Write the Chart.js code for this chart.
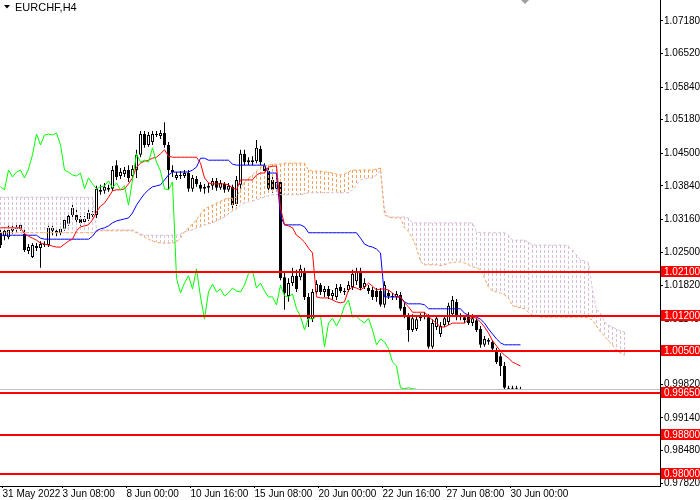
<!DOCTYPE html>
<html>
<head>
<meta charset="utf-8">
<title>EURCHF,H4</title>
<script src="https://cdn.jsdelivr.net/npm/chart.js@4.4.0/dist/chart.umd.min.js"></script>
<style>
  html, body { margin: 0; padding: 0; background: #fff; }
  canvas { display: block; }
</style>
</head>
<body>
<canvas id="chart" width="700" height="500"></canvas>
<script>
/* EURCHF H4 with Ichimoku (9/26/52) and horizontal levels, MT4 look */

const FONT = "'Liberation Sans', Arial, sans-serif";
const FONT_SIZE = 10;
const ORANGE = '#f4a460';
const THISTLE = '#d8bfd8';

// one entry per H4 bar, left to right
const opens = [
  1.0289, 1.0282, 1.0280, 1.0293, 1.0297, 1.0297, 1.0287, 1.0252, 1.0240, 1.0262,
  1.0258, 1.0266, 1.0264, 1.0299, 1.0293, 1.0289, 1.0297, 1.0307, 1.0325, 1.0325,
  1.0317, 1.0311, 1.0317, 1.0327, 1.0325, 1.0376, 1.0374, 1.0380, 1.0378, 1.0426,
  1.0404, 1.0408, 1.0416, 1.0404, 1.0416, 1.0447, 1.0489, 1.0467, 1.0473, 1.0489,
  1.0485, 1.0491, 1.0467, 1.0416, 1.0400, 1.0406, 1.0404, 1.0410, 1.0378, 1.0398,
  1.0386, 1.0378, 1.0380, 1.0384, 1.0394, 1.0380, 1.0388, 1.0376, 1.0382, 1.0347,
  1.0386, 1.0449, 1.0432, 1.0436, 1.0434, 1.0459, 1.0426, 1.0414, 1.0396, 1.0378,
  1.0392, 1.0199, 1.0161, 1.0187, 1.0202, 1.0199, 1.0210, 1.0159, 1.0114, 1.0169,
  1.0183, 1.0169, 1.0175, 1.0161, 1.0159, 1.0179, 1.0171, 1.0173, 1.0179, 1.0191,
  1.0212, 1.0179, 1.0177, 1.0173, 1.0171, 1.0171, 1.0143, 1.0167, 1.0161, 1.0159,
  1.0163, 1.0139, 1.0120, 1.0092, 1.0094, 1.0116, 1.0120, 1.0118, 1.0058, 1.0098,
  1.0084, 1.0102, 1.0108, 1.0124, 1.0149, 1.0118, 1.0118, 1.0122, 1.0106, 1.0112,
  1.0094, 1.0062, 1.0072, 1.0068, 1.0051, 1.0039, 1.0019, 0.9975, 0.9973, 0.9975,
  0.9973
];
const highs = [
  1.0295, 1.0299, 1.0303, 1.0303, 1.0305, 1.0311, 1.0297, 1.0266, 1.0268, 1.0268,
  1.0272, 1.0272, 1.0303, 1.0303, 1.0299, 1.0301, 1.0321, 1.0329, 1.0345, 1.0339,
  1.0323, 1.0323, 1.0335, 1.0333, 1.0384, 1.0386, 1.0390, 1.0386, 1.0424, 1.0436,
  1.0420, 1.0422, 1.0426, 1.0426, 1.0457, 1.0495, 1.0495, 1.0493, 1.0495, 1.0495,
  1.0497, 1.0513, 1.0473, 1.0426, 1.0412, 1.0414, 1.0416, 1.0416, 1.0406, 1.0404,
  1.0392, 1.0388, 1.0390, 1.0400, 1.0400, 1.0396, 1.0392, 1.0390, 1.0386, 1.0404,
  1.0457, 1.0457, 1.0442, 1.0444, 1.0477, 1.0465, 1.0430, 1.0420, 1.0404, 1.0400,
  1.0396, 1.0208, 1.0197, 1.0218, 1.0214, 1.0224, 1.0218, 1.0167, 1.0175, 1.0193,
  1.0187, 1.0181, 1.0181, 1.0173, 1.0185, 1.0185, 1.0177, 1.0191, 1.0214, 1.0218,
  1.0218, 1.0197, 1.0183, 1.0179, 1.0177, 1.0177, 1.0191, 1.0173, 1.0167, 1.0171,
  1.0169, 1.0147, 1.0126, 1.0124, 1.0120, 1.0126, 1.0128, 1.0124, 1.0114, 1.0122,
  1.0108, 1.0122, 1.0147, 1.0161, 1.0155, 1.0126, 1.0122, 1.0128, 1.0124, 1.0116,
  1.0100, 1.0080, 1.0076, 1.0072, 1.0056, 1.0045, 1.0027, 0.9979, 0.9979, 0.9979,
  0.9977
];
const lows = [
  1.0258, 1.0274, 1.0276, 1.0287, 1.0291, 1.0293, 1.0250, 1.0246, 1.0238, 1.0252,
  1.0218, 1.0260, 1.0260, 1.0284, 1.0282, 1.0284, 1.0293, 1.0303, 1.0321, 1.0311,
  1.0303, 1.0307, 1.0313, 1.0319, 1.0319, 1.0366, 1.0368, 1.0372, 1.0374, 1.0396,
  1.0398, 1.0402, 1.0392, 1.0400, 1.0400, 1.0442, 1.0461, 1.0463, 1.0467, 1.0483,
  1.0479, 1.0461, 1.0376, 1.0402, 1.0396, 1.0398, 1.0400, 1.0372, 1.0372, 1.0382,
  1.0372, 1.0368, 1.0370, 1.0376, 1.0374, 1.0376, 1.0370, 1.0372, 1.0339, 1.0343,
  1.0378, 1.0426, 1.0426, 1.0426, 1.0430, 1.0426, 1.0408, 1.0374, 1.0370, 1.0372,
  1.0193, 1.0133, 1.0149, 1.0181, 1.0169, 1.0193, 1.0153, 1.0098, 1.0108, 1.0165,
  1.0163, 1.0159, 1.0155, 1.0153, 1.0153, 1.0167, 1.0163, 1.0169, 1.0173, 1.0183,
  1.0173, 1.0175, 1.0165, 1.0153, 1.0149, 1.0139, 1.0137, 1.0155, 1.0153, 1.0153,
  1.0131, 1.0116, 1.0068, 1.0088, 1.0090, 1.0110, 1.0114, 1.0054, 1.0054, 1.0092,
  1.0078, 1.0098, 1.0102, 1.0120, 1.0112, 1.0112, 1.0106, 1.0102, 1.0100, 1.0088,
  1.0056, 1.0058, 1.0062, 1.0049, 1.0023, 0.9999, 0.9971, 0.9971, 0.9971, 0.9971,
  0.9971
];
const closes = [
  1.0264, 1.0293, 1.0295, 1.0297, 1.0299, 1.0305, 1.0254, 1.0260, 1.0264, 1.0258,
  1.0266, 1.0264, 1.0299, 1.0293, 1.0289, 1.0297, 1.0315, 1.0323, 1.0339, 1.0315,
  1.0309, 1.0317, 1.0329, 1.0325, 1.0378, 1.0372, 1.0382, 1.0376, 1.0416, 1.0402,
  1.0412, 1.0416, 1.0400, 1.0418, 1.0447, 1.0489, 1.0467, 1.0487, 1.0489, 1.0487,
  1.0491, 1.0467, 1.0416, 1.0412, 1.0406, 1.0404, 1.0410, 1.0378, 1.0400, 1.0388,
  1.0378, 1.0382, 1.0384, 1.0394, 1.0380, 1.0390, 1.0376, 1.0384, 1.0345, 1.0396,
  1.0449, 1.0432, 1.0436, 1.0432, 1.0461, 1.0432, 1.0414, 1.0378, 1.0376, 1.0392,
  1.0197, 1.0167, 1.0187, 1.0202, 1.0175, 1.0216, 1.0159, 1.0114, 1.0169, 1.0185,
  1.0169, 1.0175, 1.0161, 1.0167, 1.0177, 1.0171, 1.0169, 1.0183, 1.0206, 1.0212,
  1.0177, 1.0187, 1.0171, 1.0159, 1.0159, 1.0143, 1.0183, 1.0161, 1.0159, 1.0165,
  1.0135, 1.0120, 1.0092, 1.0116, 1.0114, 1.0120, 1.0122, 1.0058, 1.0106, 1.0116,
  1.0100, 1.0116, 1.0141, 1.0153, 1.0118, 1.0120, 1.0112, 1.0106, 1.0116, 1.0092,
  1.0062, 1.0074, 1.0068, 1.0054, 1.0027, 1.0019, 0.9975, 0.9973, 0.9975, 0.9973,
  0.9972
];

// Ichimoku lines
const tenkan = [
  1.0299, 1.0299, 1.0299, 1.0299, 1.0299, 1.0299, 1.0287, 1.0282, 1.0278, 1.0274,
  1.0268, 1.0266, 1.0264, 1.0262, 1.0260, 1.0260, 1.0266, 1.0272, 1.0276, 1.0293,
  1.0301, 1.0303, 1.0305, 1.0315, 1.0331, 1.0343, 1.0349, 1.0361, 1.0374, 1.0376,
  1.0376, 1.0378, 1.0388, 1.0400, 1.0422, 1.0430, 1.0434, 1.0436, 1.0440, 1.0442,
  1.0449, 1.0457, 1.0444, 1.0442, 1.0442, 1.0442, 1.0442, 1.0442, 1.0442, 1.0442,
  1.0430, 1.0400, 1.0390, 1.0388, 1.0388, 1.0388, 1.0388, 1.0386, 1.0380, 1.0376,
  1.0396, 1.0396, 1.0396, 1.0396, 1.0406, 1.0410, 1.0410, 1.0422, 1.0424, 1.0424,
  1.0339, 1.0305, 1.0303, 1.0299, 1.0284, 1.0278, 1.0270, 1.0258, 1.0248, 1.0159,
  1.0157, 1.0157, 1.0157, 1.0153, 1.0149, 1.0147, 1.0149, 1.0173, 1.0179, 1.0177,
  1.0173, 1.0179, 1.0187, 1.0181, 1.0173, 1.0175, 1.0175, 1.0173, 1.0167, 1.0159,
  1.0159, 1.0147, 1.0139, 1.0128, 1.0128, 1.0128, 1.0128, 1.0120, 1.0112, 1.0106,
  1.0098, 1.0098, 1.0102, 1.0106, 1.0106, 1.0106, 1.0106, 1.0114, 1.0118, 1.0116,
  1.0108, 1.0098, 1.0086, 1.0070, 1.0060, 1.0049, 1.0041, 1.0035, 1.0027, 1.0023,
  1.0019
];
const kijun = [
  1.0284, 1.0284, 1.0284, 1.0284, 1.0284, 1.0284, 1.0284, 1.0284, 1.0284, 1.0284,
  1.0278, 1.0276, 1.0276, 1.0276, 1.0276, 1.0276, 1.0276, 1.0276, 1.0276, 1.0276,
  1.0276, 1.0276, 1.0276, 1.0282, 1.0293, 1.0297, 1.0299, 1.0303, 1.0309, 1.0313,
  1.0315, 1.0317, 1.0319, 1.0329, 1.0345, 1.0357, 1.0368, 1.0376, 1.0382, 1.0384,
  1.0386, 1.0396, 1.0406, 1.0412, 1.0412, 1.0412, 1.0412, 1.0412, 1.0416, 1.0422,
  1.0440, 1.0440, 1.0436, 1.0436, 1.0436, 1.0436, 1.0436, 1.0436, 1.0428, 1.0426,
  1.0426, 1.0426, 1.0426, 1.0426, 1.0426, 1.0426, 1.0426, 1.0410, 1.0410, 1.0410,
  1.0323, 1.0305, 1.0305, 1.0305, 1.0305, 1.0305, 1.0301, 1.0289, 1.0289, 1.0289,
  1.0289, 1.0289, 1.0289, 1.0289, 1.0289, 1.0289, 1.0289, 1.0289, 1.0289, 1.0289,
  1.0278, 1.0266, 1.0262, 1.0260, 1.0256, 1.0248, 1.0159, 1.0159, 1.0159, 1.0159,
  1.0159, 1.0149, 1.0145, 1.0145, 1.0145, 1.0145, 1.0143, 1.0135, 1.0135, 1.0135,
  1.0135, 1.0135, 1.0135, 1.0135, 1.0135, 1.0135, 1.0126, 1.0122, 1.0120, 1.0118,
  1.0114, 1.0106, 1.0094, 1.0084, 1.0074, 1.0066, 1.0062, 1.0062, 1.0062, 1.0062,
  1.0062
];
// cloud spans run 26 bars past the last candle
const spanA = [
  1.0289, 1.0289, 1.0289, 1.0289, 1.0289, 1.0289, 1.0289, 1.0289, 1.0289, 1.0289,
  1.0289, 1.0289, 1.0289, 1.0289, 1.0289, 1.0289, 1.0289, 1.0289, 1.0289, 1.0289,
  1.0289, 1.0289, 1.0289, 1.0289, 1.0291, 1.0293, 1.0293, 1.0293, 1.0293, 1.0293,
  1.0293, 1.0293, 1.0293, 1.0293, 1.0289, 1.0284, 1.0280, 1.0276, 1.0272, 1.0270,
  1.0268, 1.0268, 1.0268, 1.0268, 1.0270, 1.0278, 1.0291, 1.0299, 1.0307, 1.0315,
  1.0327, 1.0337, 1.0341, 1.0345, 1.0349, 1.0353, 1.0357, 1.0359, 1.0359, 1.0361,
  1.0376, 1.0392, 1.0400, 1.0406, 1.0414, 1.0422, 1.0424, 1.0426, 1.0428, 1.0428,
  1.0428, 1.0430, 1.0430, 1.0430, 1.0430, 1.0430, 1.0430, 1.0416, 1.0414, 1.0414,
  1.0414, 1.0412, 1.0412, 1.0410, 1.0408, 1.0406, 1.0408, 1.0412, 1.0416, 1.0416,
  1.0416, 1.0416, 1.0416, 1.0416, 1.0418, 1.0420, 1.0325, 1.0321, 1.0319, 1.0319,
  1.0319, 1.0299, 1.0291, 1.0278, 1.0258, 1.0230, 1.0224, 1.0224, 1.0224, 1.0224,
  1.0222, 1.0224, 1.0228, 1.0228, 1.0230, 1.0230, 1.0228, 1.0224, 1.0220, 1.0218,
  1.0214, 1.0197, 1.0179, 1.0171, 1.0169, 1.0167, 1.0163, 1.0157, 1.0141, 1.0139,
  1.0137, 1.0135, 1.0128, 1.0122, 1.0120, 1.0118, 1.0118, 1.0118, 1.0118, 1.0118,
  1.0118, 1.0118, 1.0118, 1.0118, 1.0118, 1.0118, 1.0118, 1.0116, 1.0112, 1.0100,
  1.0088, 1.0080, 1.0070, 1.0062, 1.0051, 1.0045, 1.0041
];
const spanB = [
  1.0361, 1.0361, 1.0361, 1.0361, 1.0361, 1.0361, 1.0361, 1.0361, 1.0361, 1.0361,
  1.0361, 1.0361, 1.0361, 1.0361, 1.0361, 1.0361, 1.0361, 1.0361, 1.0361, 1.0361,
  1.0361, 1.0361, 1.0361, 1.0361, 1.0295, 1.0295, 1.0295, 1.0295, 1.0295, 1.0295,
  1.0295, 1.0295, 1.0295, 1.0295, 1.0291, 1.0287, 1.0284, 1.0284, 1.0284, 1.0284,
  1.0284, 1.0284, 1.0284, 1.0284, 1.0284, 1.0287, 1.0291, 1.0293, 1.0295, 1.0299,
  1.0301, 1.0305, 1.0307, 1.0309, 1.0313, 1.0317, 1.0321, 1.0327, 1.0333, 1.0337,
  1.0345, 1.0349, 1.0351, 1.0353, 1.0355, 1.0359, 1.0361, 1.0364, 1.0366, 1.0366,
  1.0366, 1.0366, 1.0366, 1.0366, 1.0366, 1.0366, 1.0368, 1.0370, 1.0370, 1.0370,
  1.0370, 1.0370, 1.0370, 1.0370, 1.0370, 1.0370, 1.0370, 1.0370, 1.0376, 1.0386,
  1.0396, 1.0398, 1.0400, 1.0400, 1.0406, 1.0416, 1.0335, 1.0321, 1.0321, 1.0321,
  1.0321, 1.0321, 1.0319, 1.0309, 1.0309, 1.0309, 1.0309, 1.0309, 1.0309, 1.0309,
  1.0309, 1.0309, 1.0309, 1.0309, 1.0309, 1.0309, 1.0309, 1.0309, 1.0309, 1.0291,
  1.0289, 1.0289, 1.0289, 1.0289, 1.0289, 1.0289, 1.0289, 1.0284, 1.0274, 1.0274,
  1.0274, 1.0274, 1.0270, 1.0264, 1.0264, 1.0264, 1.0264, 1.0264, 1.0264, 1.0264,
  1.0264, 1.0264, 1.0262, 1.0254, 1.0244, 1.0234, 1.0232, 1.0228, 1.0173, 1.0133,
  1.0126, 1.0108, 1.0102, 1.0098, 1.0094, 1.0090, 1.0088
];

const levels = [1.0210, 1.0120, 1.0050, 0.9965, 0.9880, 0.9800];
const bidPrice = 0.9972;
const priceTicks = [1.0718, 1.0652, 1.0584, 1.0518, 1.0450, 1.0384, 1.0316, 1.0250,
  1.0182, 1.0114, 1.0048, 0.9982, 0.9914, 0.9848, 0.9782];
const timeLabels = ['31 May 2022', '3 Jun 08:00', '8 Jun 00:00', '10 Jun 16:00', '15 Jun 08:00',
  '20 Jun 00:00', '22 Jun 16:00', '27 Jun 08:00', '30 Jun 00:00'];
const timeLabelBars = [0, 15, 31, 47, 63, 79, 95, 111, 127];

// chikou span = close plotted 26 bars back
const chikou = closes.slice(26);

const xy = arr => arr.map((v, i) => ({ x: i, y: v }));

/* ── Plugins ── */
const cloudHatch = {
  id: 'cloudHatch',
  beforeDatasetDraw(chart, args) {
    if (chart.data.datasets[args.index].label !== 'Senkou B') return;
    const { ctx, chartArea: a, scales: { x, y } } = chart;
    ctx.save();
    ctx.beginPath();
    ctx.rect(a.left, a.top, a.right - a.left, a.bottom - a.top);
    ctx.clip();
    ctx.lineWidth = 1;
    ctx.setLineDash([3, 2]);
    spanA.forEach((va, i) => {
      const vb = spanB[i];
      const px = Math.floor(x.getPixelForValue(i)) + 0.5;
      ctx.strokeStyle = va >= vb ? ORANGE : THISTLE;
      ctx.beginPath();
      ctx.moveTo(px, Math.round(y.getPixelForValue(Math.max(va, vb))));
      ctx.lineTo(px, Math.round(y.getPixelForValue(Math.min(va, vb))));
      ctx.stroke();
    });
    ctx.restore();
  }
};

const levelLines = {
  id: 'levelLines',
  afterDatasetsDraw(chart) {
    const { ctx, chartArea: a, scales: { y } } = chart;
    ctx.save();
    const by = Math.round(y.getPixelForValue(bidPrice)) + 0.5;
    ctx.strokeStyle = '#c0c0c0';
    ctx.lineWidth = 1;
    ctx.beginPath();
    ctx.moveTo(a.left, by);
    ctx.lineTo(a.right, by);
    ctx.stroke();
    ctx.fillStyle = '#ff0000';
    levels.forEach(l => {
      const py = Math.round(y.getPixelForValue(l));
      ctx.fillRect(a.left, py - 1, a.right - a.left, 2);
    });
    ctx.restore();
  },
  afterDraw(chart) {
    const { ctx, chartArea: a, scales: { y } } = chart;
    ctx.save();
    ctx.font = `${FONT_SIZE}px ${FONT}`;
    ctx.textBaseline = 'middle';
    ctx.textAlign = 'left';
    levels.forEach(l => {
      const py = Math.round(y.getPixelForValue(l));
      ctx.fillStyle = '#ff0000';
      ctx.fillRect(a.right + 1, py - 6, 40, 11);
      ctx.fillStyle = '#ffffff';
      ctx.fillText(l.toFixed(5), a.right + 4, py);
    });
    // symbol caption
    ctx.fillStyle = '#000';
    ctx.beginPath();
    ctx.moveTo(4, 5); ctx.lineTo(10, 5); ctx.lineTo(7, 8.5); ctx.closePath();
    ctx.fill();
    ctx.font = `11px ${FONT}`;
    ctx.fillText('EURCHF,H4', 15, 7.5);
    // chart shift marker
    ctx.fillStyle = '#a0a0a0';
    ctx.beginPath();
    ctx.moveTo(521, 0); ctx.lineTo(529, 0); ctx.lineTo(525, 4); ctx.closePath();
    ctx.fill();
    ctx.restore();
  }
};

/* ── Chart ── */
new Chart(document.getElementById('chart'), {
  type: 'bar',
  data: {
    datasets: [
      { type: 'line', label: 'Chikou', data: xy(chikou), borderColor: '#00ff00', borderWidth: 1,
        pointRadius: 0, tension: 0, order: 1 },
      { type: 'line', label: 'Tenkan', data: xy(tenkan), borderColor: '#ff0000', borderWidth: 1,
        pointRadius: 0, tension: 0, order: 2 },
      { type: 'line', label: 'Kijun', data: xy(kijun), borderColor: '#0000ff', borderWidth: 1,
        pointRadius: 0, tension: 0, order: 3 },
      { type: 'line', label: 'Senkou A', data: xy(spanA), borderColor: ORANGE, borderWidth: 1,
        borderDash: [3, 2], pointRadius: 0, tension: 0, order: 4 },
      { type: 'line', label: 'Senkou B', data: xy(spanB), borderColor: THISTLE, borderWidth: 1,
        borderDash: [3, 2], pointRadius: 0, tension: 0, order: 5 },
      { type: 'bar', label: 'Body',
        data: opens.map((o, i) => ({ x: i, y: [Math.min(o, closes[i]), Math.max(o, closes[i])] })),
        backgroundColor: opens.map((o, i) => closes[i] >= o ? '#ffffff' : '#000000'),
        borderColor: '#000', borderWidth: 1, borderSkipped: false,
        barThickness: 3, grouped: false, inflateAmount: 0, order: 6 },
      { type: 'bar', label: 'Wick',
        data: highs.map((h, i) => ({ x: i, y: [lows[i], h] })),
        backgroundColor: '#000', borderWidth: 0,
        barThickness: 1, grouped: false, inflateAmount: 0, order: 7 },
    ]
  },
  options: {
    responsive: false,
    devicePixelRatio: 1,
    animation: false,
    events: [],
    layout: { padding: 0 },
    plugins: { legend: { display: false }, tooltip: { enabled: false } },
    scales: {
      x: {
        type: 'linear', min: -0.125, max: 164.875, offset: false, bounds: 'data',
        grid: { display: true, offset: false, drawOnChartArea: false, drawTicks: true, tickLength: 2, color: '#000' },
        border: { display: true, color: '#000', width: 1 },
        ticks: {
          autoSkip: false, maxRotation: 0, align: 'start', padding: 0, color: '#000',
          font: { family: FONT, size: FONT_SIZE },
          callback: (v, i) => timeLabels[i]
        },
        afterBuildTicks: s => { s.ticks = timeLabelBars.map(b => ({ value: b + 0.5 })); },
        afterFit: s => { s.height = 14; s.paddingLeft = 0; s.paddingRight = 0; }
      },
      y: {
        type: 'linear', position: 'right', min: 0.9776, max: 1.07605, beginAtZero: false, bounds: 'data',
        grid: { display: true, offset: false, drawOnChartArea: false, drawTicks: true, tickLength: 3, color: '#000' },
        border: { display: true, color: '#000', width: 1 },
        ticks: {
          autoSkip: false, padding: 1, color: '#000',
          font: { family: FONT, size: FONT_SIZE },
          callback: v => v.toFixed(5)
        },
        afterBuildTicks: s => { s.ticks = priceTicks.map(v => ({ value: v })); },
        afterFit: s => { s.width = 40; s.paddingTop = 0; s.paddingBottom = 0; }
      }
    }
  },
  plugins: [cloudHatch, levelLines]
});
</script>
</body>
</html>
